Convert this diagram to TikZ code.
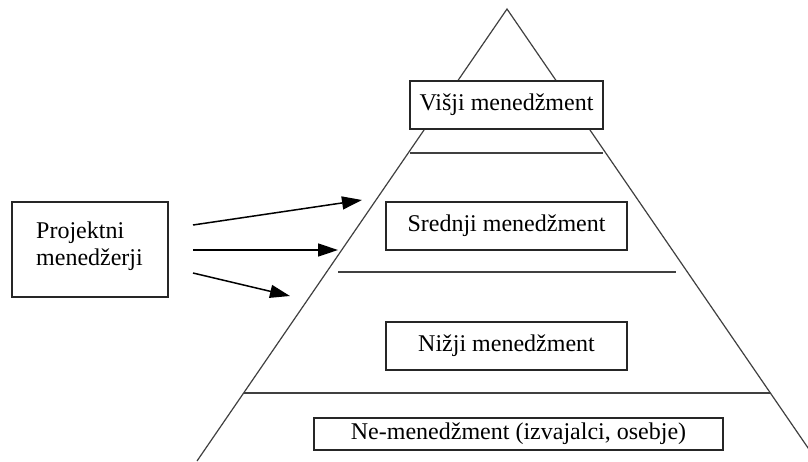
\documentclass[tikz,border=0pt]{standalone}
\usepackage{fontspec}
\setmainfont{Liberation Serif}
\usetikzlibrary{arrows.meta}
\begin{document}
\begin{tikzpicture}[x=1pt,y=-1pt,
  edge/.style={line width=1.2pt,draw=black!75},
  levelbox/.style={draw=black!85,line width=1.4pt,fill=white,inner sep=0pt,
    font=\fontsize{24}{27.5}\selectfont},
  pointer/.style={line width=1.5pt,draw=black,
    -{Triangle[length=20pt,width=13pt]}}]
\clip (0,0) rectangle (808,461);
\fill[white] (0,0) rectangle (808,461);

% pyramid outline and level dividers
\coordinate (apex) at (507,9);
\coordinate (bl) at (197,461);
\coordinate (br) at (817,461);
\draw[edge] (bl) -- (apex) -- (br);
\coordinate (d1l) at (410,153);
\coordinate (d1r) at (603,153);
\coordinate (d2l) at (338,272);
\coordinate (d2r) at (676,272);
\coordinate (d3l) at (244,393);
\coordinate (d3r) at (770,393);
\draw[edge] (d1l) -- (d1r);
\draw[edge] (d2l) -- (d2r);
\draw[edge] (d3l) -- (d3r);

% level labels
\node[levelbox,minimum width=193pt,minimum height=48pt] (top) at (506.5,105) {Višji menedžment};
\node[levelbox,minimum width=241pt,minimum height=48pt] (mid) at (506.5,226) {Srednji menedžment};
\node[levelbox,minimum width=241pt,minimum height=48pt] (low) at (506.5,346) {Nižji menedžment};
\node[levelbox,minimum width=409pt,minimum height=32pt] (base) at (518.5,434) {Ne-menedžment (izvajalci, osebje)};

% project managers box
\node[levelbox,minimum width=156pt,minimum height=95pt] (pm) at (90,249.5) {};
\node[align=left,anchor=west,inner sep=0pt,font=\fontsize{24}{27.5}\selectfont] (pmtext) at (36,246) {Projektni\\menedžerji};

% arrows into the pyramid
\coordinate (s1) at (193,225);
\coordinate (e1) at (362,200);
\coordinate (s2) at (193,250);
\coordinate (e2) at (338,250);
\coordinate (s3) at (193,273);
\coordinate (e3) at (290,296);
\draw[pointer] (s1) -- (e1);
\draw[pointer] (s2) -- (e2);
\draw[pointer] (s3) -- (e3);
\end{tikzpicture}
\end{document}
